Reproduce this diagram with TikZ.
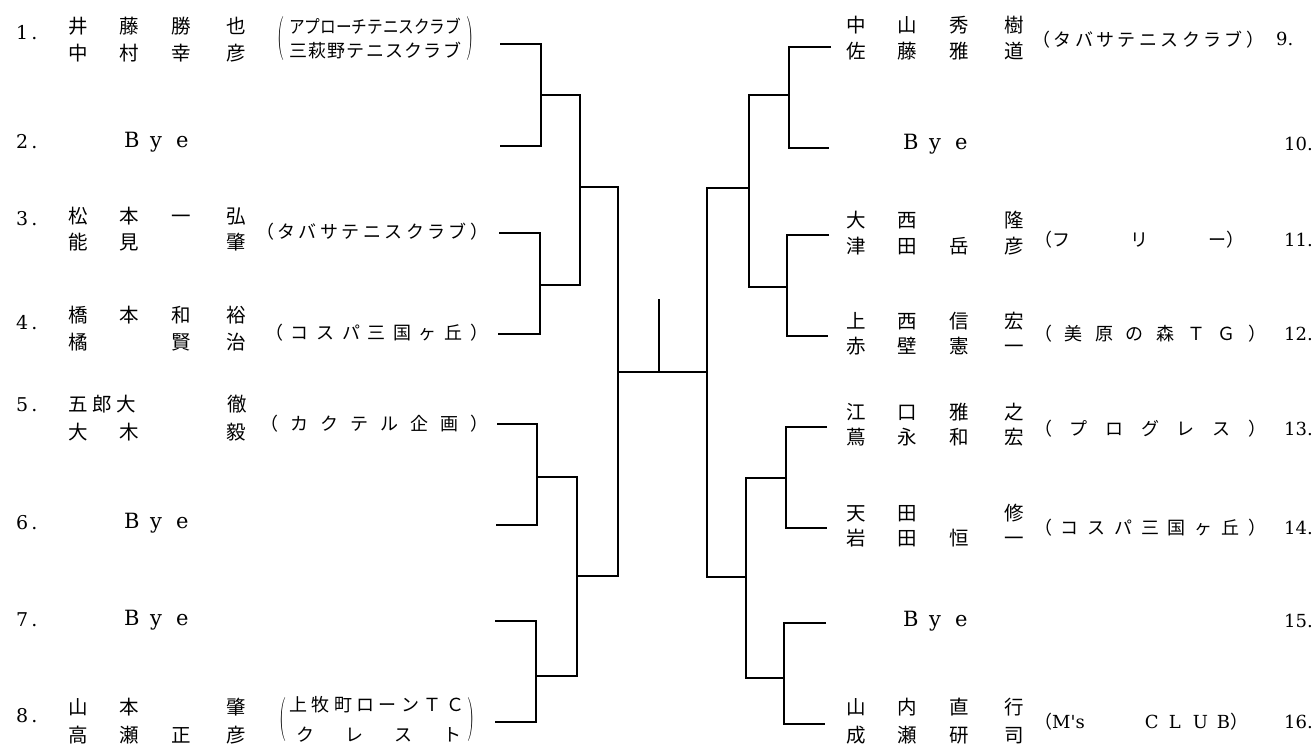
\documentclass[tikz,border=0pt]{standalone}
\usepackage{fontspec}
\usepackage{graphicx}
\newfontfamily\jp{Noto Sans CJK JP}
\newfontfamily\lat{DejaVu Serif}
\newcommand\nrow[4]{\makebox[20pt]{#1}\hspace{31pt}\makebox[20pt]{#2}\hspace{32pt}\makebox[20pt]{#3}\hspace{35pt}\makebox[20pt]{#4}}
\def\spr#1{\sprA#1\relax}
\def\sprA#1{\ifx\relax#1\else#1\expandafter\sprB\fi}
\def\sprB#1{\ifx\relax#1\else\hfill#1\expandafter\sprB\fi}
\newcommand\sprw[2]{\makebox[#1][s]{\spr{#2}}}
\newcommand\byetext{\makebox[26pt][l]{B}\makebox[26pt][l]{y}e}
\newcommand\lnum[1]{#1\kern3pt.}
\tikzset{
 br/.style={line width=1.2pt},
 nm/.style={anchor=west, inner sep=0pt, font=\jp\fontsize{19.5pt}{19.5pt}\selectfont},
 pr/.style={anchor=west, inner sep=0pt, font=\jp\fontsize{18pt}{18pt}\selectfont},
 num/.style={anchor=west, inner sep=0pt, font=\lat\fontsize{19pt}{19pt}\selectfont},
 rnum/.style={anchor=west, inner sep=0pt, font=\lat\fontsize{18pt}{18pt}\selectfont},
 bye/.style={anchor=west, inner sep=0pt, font=\lat\fontsize{21pt}{21pt}\selectfont},
 bp/.style={inner sep=0pt, font=\fontsize{20pt}{20pt}\selectfont},
}
\begin{document}
\begin{tikzpicture}[x=1pt,y=-1pt]
\useasboundingbox[fill=white] (0,0) rectangle (1316,749);
% ---------- left names
\node[nm] (n1a) at (68,26) {\nrow{井}{藤}{勝}{也}};
\node[nm] (n1b) at (68,53) {\nrow{中}{村}{幸}{彦}};
\node[nm] (n3a) at (68,216) {\nrow{松}{本}{一}{弘}};
\node[nm] (n3b) at (68,242) {\nrow{能}{見}{}{肇}};
\node[nm] (n4a) at (68,315) {\nrow{橋}{本}{和}{裕}};
\node[nm] (n4b) at (68,342) {\nrow{橘}{}{賢}{治}};
\node[nm] (n5a) at (68,404) {\makebox[68pt][s]{五\hfill 郎\hfill 大}\hspace{91pt}\makebox[20pt]{徹}};
\node[nm] (n5b) at (68,432) {\nrow{大}{木}{}{毅}};
\node[nm] (n8a) at (68,707) {\nrow{山}{本}{}{肇}};
\node[nm] (n8b) at (68,735) {\nrow{高}{瀬}{正}{彦}};
% ---------- left numbers and byes
\node[num] (k1) at (16,33) {\lnum{1}};
\node[num] (k2) at (16,142) {\lnum{2}};
\node[bye] (y2) at (124,142) {\byetext};
\node[num] (k3) at (16,219) {\lnum{3}};
\node[num] (k4) at (16,323) {\lnum{4}};
\node[num] (k5) at (16,405) {\lnum{5}};
\node[num] (k6) at (16,523) {\lnum{6}};
\node[bye] (y6) at (124,523) {\byetext};
\node[num] (k7) at (16,620) {\lnum{7}};
\node[bye] (y7) at (124,620) {\byetext};
\node[num] (k8) at (16,716) {\lnum{8}};
% ---------- left clubs
\node[pr] (c1a) at (289,26) {\resizebox{172pt}{\height}{アプローチテニスクラブ}};
\node[pr] (c1b) at (289,51) {\sprw{172pt}{三萩野テニスクラブ}};
\node[bp] (c1l) at (281,39) {\scalebox{1}[2.2]{(}};
\node[bp] (c1r) at (470,39) {\scalebox{1}[2.2]{)}};
\node[pr] (c3) at (256,232) {\sprw{232pt}{（タバサテニスクラブ）}};
\node[pr] (c4) at (265,333) {\sprw{223pt}{（コスパ三国ヶ丘）}};
\node[pr] (c5) at (260,424) {\sprw{228pt}{（カクテル企画）}};
\node[pr] (c8a) at (289,705) {\sprw{175pt}{上牧町ローンＴＣ}};
\node[pr] (c8b) at (296,735) {\sprw{165pt}{クレスト}};
\node[bp] (c8l) at (283,720) {\scalebox{1}[2.2]{(}};
\node[bp] (c8r) at (471,720) {\scalebox{1}[2.2]{)}};
% ---------- right names
\node[nm] (n9a) at (846,25) {\nrow{中}{山}{秀}{樹}};
\node[nm] (n9b) at (846,51) {\nrow{佐}{藤}{雅}{道}};
\node[nm] (n11a) at (846,220) {\nrow{大}{西}{}{隆}};
\node[nm] (n11b) at (846,246) {\nrow{津}{田}{岳}{彦}};
\node[nm] (n12a) at (846,321) {\nrow{上}{西}{信}{宏}};
\node[nm] (n12b) at (846,346) {\nrow{赤}{壁}{憲}{一}};
\node[nm] (n13a) at (846,412) {\nrow{江}{口}{雅}{之}};
\node[nm] (n13b) at (846,437) {\nrow{蔦}{永}{和}{宏}};
\node[nm] (n14a) at (846,513) {\nrow{天}{田}{}{修}};
\node[nm] (n14b) at (846,538) {\nrow{岩}{田}{恒}{一}};
\node[nm] (n16a) at (846,707) {\nrow{山}{内}{直}{行}};
\node[nm] (n16b) at (846,735) {\nrow{成}{瀬}{研}{司}};
% ---------- right clubs
\node[pr] (c9) at (1032,40) {\sprw{232pt}{（タバサテニスクラブ）}};
\node[pr] (c11) at (1034,240) {\makebox[210pt][s]{（フ\hfill リ\hfill ー）}};
\node[pr] (c12) at (1034,334) {\sprw{232pt}{（美原の森ＴＧ）}};
\node[pr] (c13) at (1034,429) {\sprw{232pt}{（プログレス）}};
\node[pr] (c14) at (1034,528) {\sprw{232pt}{（コスパ三国ヶ丘）}};
\node[pr] (c16) at (1034,722) {\makebox[214pt][s]{（{\lat\fontsize{18pt}{18pt}\selectfont M's}\hfill{\lat\fontsize{18pt}{18pt}\selectfont\makebox[24pt][l]{C}\makebox[24pt][l]{L}\makebox[24pt][l]{U}B}）}};
% ---------- right numbers and byes
\node[rnum] (k9) at (1276,39) {9.};
\node[rnum] (k10) at (1284,144) {10.};
\node[bye] (y10) at (903,144) {\byetext};
\node[rnum] (k11) at (1284,240) {11.};
\node[rnum] (k12) at (1284,334) {12.};
\node[rnum] (k13) at (1284,429) {13.};
\node[rnum] (k14) at (1284,528) {14.};
\node[rnum] (k15) at (1284,621) {15.};
\node[bye] (y15) at (903,621) {\byetext};
\node[rnum] (k16) at (1284,722) {16.};
% ---------- bracket coordinates
\coordinate (e1) at (500,44);  \coordinate (e2) at (500,146); \coordinate (a1) at (541,95);
\coordinate (e3) at (499,233); \coordinate (e4) at (498,334); \coordinate (a2) at (540,285);
\coordinate (e5) at (497,424); \coordinate (e6) at (496,525); \coordinate (a3) at (537,477);
\coordinate (e7) at (495,621); \coordinate (e8) at (495,722); \coordinate (a4) at (536,676);
\coordinate (b1) at (580,187); \coordinate (b2) at (577,576);
\coordinate (c1) at (618,372);
\coordinate (e9) at (831,47);   \coordinate (e10) at (829,148); \coordinate (r1) at (789,95);
\coordinate (e11) at (829,235); \coordinate (e12) at (828,336); \coordinate (r2) at (787,287);
\coordinate (e13) at (827,427); \coordinate (e14) at (827,528); \coordinate (r3) at (786,478);
\coordinate (e15) at (826,623); \coordinate (e16) at (825,724); \coordinate (r4) at (784,678);
\coordinate (s1) at (749,188); \coordinate (s2) at (746,577);
\coordinate (c2) at (707,372);
\coordinate (w) at (659,299);
% ---------- bracket lines
\draw[br] (e1) -| (a1) |- (e2);
\draw[br] (e3) -| (a2) |- (e4);
\draw[br] (e5) -| (a3) |- (e6);
\draw[br] (e7) -| (a4) |- (e8);
\draw[br] (a1) -| (b1) |- (a2);
\draw[br] (a3) -| (b2) |- (a4);
\draw[br] (b1) -| (c1) |- (b2);
\draw[br] (e9) -| (r1) |- (e10);
\draw[br] (e11) -| (r2) |- (e12);
\draw[br] (e13) -| (r3) |- (e14);
\draw[br] (e15) -| (r4) |- (e16);
\draw[br] (r1) -| (s1) |- (r2);
\draw[br] (r3) -| (s2) |- (r4);
\draw[br] (s1) -| (c2) |- (s2);
\draw[br] (c1) -- (c2);
\draw[br] (w) -- (w |- c1);
\end{tikzpicture}
\end{document}
